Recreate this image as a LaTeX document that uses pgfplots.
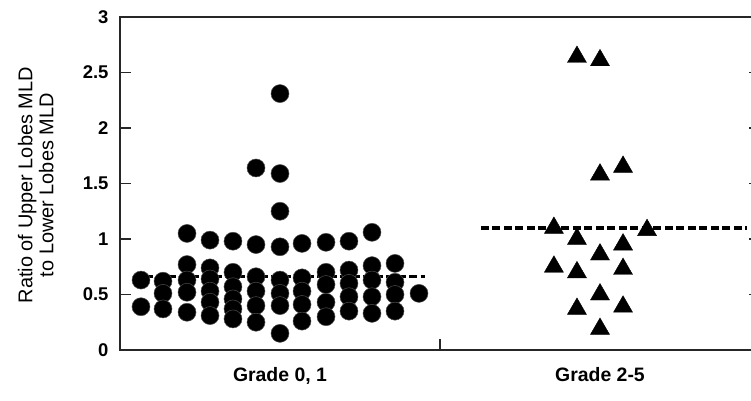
\documentclass[border=0pt]{standalone}
\usepackage{fontspec}
\setmainfont{Liberation Sans}
\usepackage{pgfplots}
\pgfplotsset{compat=1.18}
\begin{document}
\begin{tikzpicture}
\begin{axis}[
  scale only axis, width=640bp, height=333bp,
  at={(0,0)}, anchor=south west,
  xmin=0, xmax=2, ymin=0, ymax=3,
  ytick={0,0.5,1,1.5,2,2.5,3},
  xtick={1}, xticklabels={},
  extra x ticks={0.5,1.5},
  extra x tick labels={{Grade 0, 1},{Grade 2-5}},
  extra x tick style={major tick length=0pt},
  xtick pos=bottom,
  tick align=inside, major tick length=11bp,
  axis line style={line width=1.4bp, black!85},
  every tick/.style={line width=1.3bp, black!85},
  /pgf/number format/assume math mode=true,
  yticklabel style={font=\fontsize{18.5}{18.5}\selectfont\bfseries, xshift=-8bp},
  xticklabel style={font=\fontsize{19.5}{19.5}\selectfont\bfseries, yshift=-14bp},
  ylabel={Ratio of Upper Lobes MLD\\to Lower Lobes MLD},
  every axis y label/.style={at={(axis description cs:-0.0984,0.495)}, rotate=90, anchor=south, align=center, font=\fontsize{20}{21}\selectfont},
  clip=false,
]
% Grade 0,1 (circles)
\addplot[only marks, mark=*, mark size=9bp, mark options={fill=black, draw=black!70, line width=0.5bp}] coordinates {
(0.0656,0.63) (0.0656,0.39)
(0.1344,0.62) (0.1344,0.51) (0.1344,0.37)
(0.2094,1.05) (0.2094,0.77) (0.2094,0.63) (0.2094,0.52) (0.2094,0.34)
(0.2813,0.99) (0.2813,0.74) (0.2813,0.64) (0.2813,0.53) (0.2813,0.43) (0.2813,0.31)
(0.3531,0.98) (0.3531,0.70) (0.3531,0.57) (0.3531,0.46) (0.3531,0.37) (0.3531,0.28)
(0.4250,1.64) (0.4250,0.95) (0.4250,0.66) (0.4250,0.53) (0.4250,0.40) (0.4250,0.25)
(0.5000,2.31) (0.5000,1.59) (0.5000,1.25) (0.5000,0.93) (0.5000,0.63) (0.5000,0.51) (0.5000,0.40) (0.5000,0.15)
(0.5688,0.96) (0.5688,0.65) (0.5688,0.53) (0.5688,0.41) (0.5688,0.26)
(0.6438,0.97) (0.6438,0.70) (0.6438,0.59) (0.6438,0.43) (0.6438,0.30)
(0.7156,0.98) (0.7156,0.72) (0.7156,0.60) (0.7156,0.48) (0.7156,0.35)
(0.7875,1.06) (0.7875,0.76) (0.7875,0.63) (0.7875,0.48) (0.7875,0.33)
(0.8594,0.78) (0.8594,0.61) (0.8594,0.50) (0.8594,0.35)
(0.9344,0.51)
};
% Grade 2-5 (triangles)
\addplot[only marks, mark=triangle*, mark size=11bp, mark options={fill=black, draw=black}] coordinates {
(1.428,2.64) (1.500,2.61) (1.500,1.58) (1.572,1.65)
(1.356,1.10) (1.647,1.08) (1.428,1.00) (1.572,0.95)
(1.500,0.86) (1.356,0.75) (1.428,0.70) (1.572,0.73)
(1.500,0.50) (1.428,0.37) (1.572,0.39) (1.500,0.19)
};
% medians
\addplot[black, line width=3.5bp, dash pattern=on 8bp off 3.5bp] coordinates {(0.041,0.66) (0.953,0.66)};
\addplot[black, line width=3.5bp, dash pattern=on 8bp off 3.5bp] coordinates {(1.128,1.10) (1.960,1.10)};
\end{axis}
\pgfresetboundingbox
\useasboundingbox (-120bp,-51bp) rectangle (631bp,350bp);
\end{tikzpicture}
\end{document}
